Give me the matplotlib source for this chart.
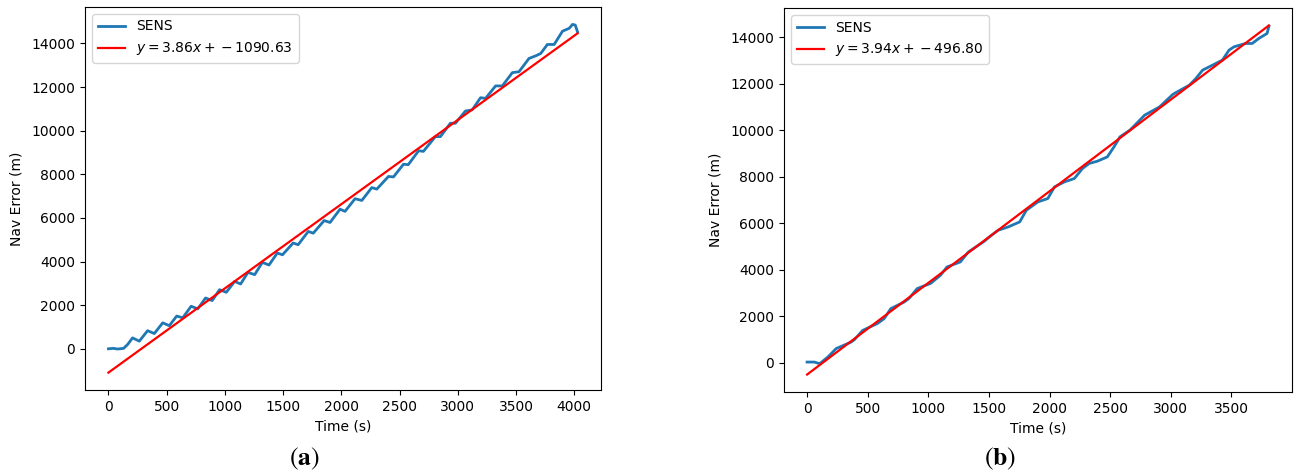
import numpy as np
import matplotlib
matplotlib.use("Agg")
import matplotlib.pyplot as plt

# ---- panel (a) : SENS nav error ----
time_a = [0, 40, 80, 130, 165, 207, 265, 336, 394, 466, 523, 586, 638, 710,
          767, 834, 891, 954, 1012, 1084, 1135, 1198, 1256, 1322, 1379, 1450,
          1495, 1586, 1629, 1716, 1759, 1853, 1903, 1989, 2032, 2118, 2176,
          2262, 2305, 2405, 2448, 2534, 2575, 2664, 2705, 2808, 2851, 2937,
          2980, 3066, 3124, 3196, 3239, 3325, 3383, 3469, 3526, 3612, 3670,
          3713, 3770, 3828, 3900, 3957, 3986, 4009, 4029]
err_a = [0, 20, -10, 20, 200, 500, 350, 830, 700, 1190, 1060, 1500, 1420, 1950,
         1830, 2330, 2210, 2710, 2590, 3090, 2970, 3500, 3400, 3960, 3840, 4390,
         4310, 4850, 4770, 5380, 5300, 5880, 5790, 6400, 6300, 6880, 6800,
         7390, 7320, 7900, 7880, 8460, 8440, 9080, 9050, 9727, 9727, 10340,
         10340, 10900, 10950, 11510, 11480, 12050, 12050, 12660, 12700, 13310,
         13430, 13540, 13950, 13950, 14560, 14690, 14870, 14840, 14530]
slope_a, icpt_a = 3.86, -1090.63
xticks_a = [0, 500, 1000, 1500, 2000, 2500, 3000, 3500, 4000]

# ---- panel (b) ----
time_b = [0, 60, 104, 172, 240, 363, 390, 458, 581, 636, 691, 800, 840, 908,
          1018, 1100, 1154, 1264, 1331, 1454, 1522, 1577, 1659, 1754, 1809,
          1904, 1986, 2041, 2123, 2205, 2272, 2327, 2395, 2477, 2532, 2581,
          2663, 2731, 2785, 2908, 3017, 3044, 3154, 3208, 3263, 3345, 3426,
          3481, 3522, 3617, 3672, 3727, 3795, 3810]
err_b = [40, 40, -30, 260, 620, 900, 1000, 1400, 1700, 1910, 2340, 2620, 2770,
         3200, 3420, 3770, 4130, 4345, 4776, 5206, 5494, 5709, 5851, 6066, 6570,
         6927, 7073, 7573, 7787, 7933, 8364, 8579, 8678, 8863, 9293, 9723,
         10012, 10369, 10657, 11014, 11547, 11633, 11948, 12236, 12593, 12808,
         13023, 13453, 13596, 13740, 13740, 13956, 14171, 14480]
slope_b, icpt_b = 3.94, -496.80
xticks_b = [0, 500, 1000, 1500, 2000, 2500, 3000, 3500]

W, H = 1296, 474
fig = plt.figure(figsize=(W / 100, H / 100), dpi=100)
ax1 = fig.add_axes([85 / W, (H - 390) / H, 516 / W, 383 / H])
ax2 = fig.add_axes([784 / W, (H - 392) / H, 508 / W, 384 / H])

panels = [(ax1, time_a, err_a, slope_a, icpt_a, xticks_a, "a", 304),
          (ax2, time_b, err_b, slope_b, icpt_b, xticks_b, "b", 1000)]

for ax, t, e, m, c, xt, tag, xc in panels:
    t = np.array(t)
    ax.plot(t, e, color="#1f77b4", lw=2.0, label="SENS")
    tt = np.array([t[0], t[-1]])
    ax.plot(tt, m * tt + c, color="red", lw=1.6,
            label=r"$y = %.2fx + %.2f$" % (m, c))
    ax.set_xticks(xt)
    ax.set_xlabel("Time (s)", fontsize=10)
    ax.set_ylabel("Nav Error (m)", fontsize=10, labelpad=6)
    ax.tick_params(labelsize=10)
    ax.legend(loc="upper left", fontsize=10)
    fig.text(xc / W, (H - 465) / H, r"$(\mathbf{%s})$" % tag,
             math_fontfamily="stix", fontsize=18.5,
             ha="center", va="baseline")

fig.savefig("out.png", dpi=100)
